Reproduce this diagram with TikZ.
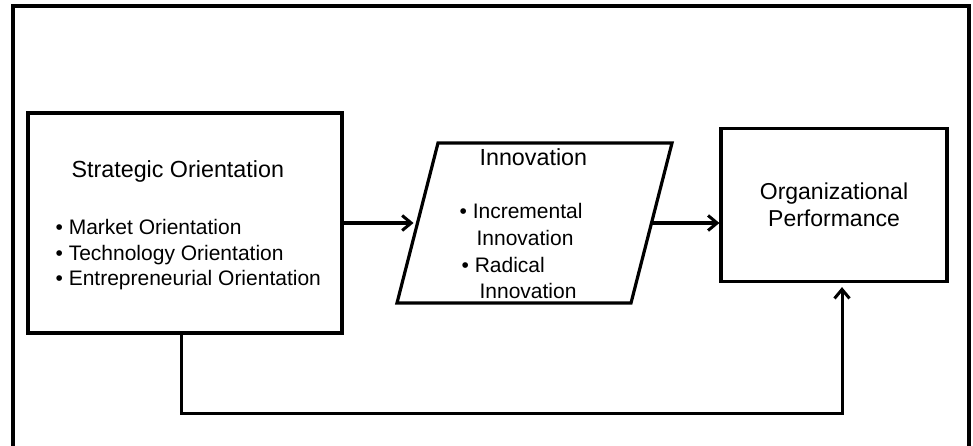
\documentclass[tikz,border=0pt]{standalone}
\usepackage{fontspec}
\setmainfont{Liberation Sans}
\usetikzlibrary{positioning,arrows.meta}

\begin{document}
\begin{tikzpicture}[
    x=1pt, y=-1pt,
    line width=3.2pt,
    box/.style={rectangle, draw, line width=3.2pt, inner sep=0pt},
    heading/.style={font=\fontsize{23.3}{27}\selectfont, inner sep=0pt},
    items/.style={font=\fontsize{21}{25.5}\selectfont, align=left, inner sep=0pt},
    arrow/.style={-{Straight Barb[length=9pt,width=15pt]}, line width=3pt}
]
    \useasboundingbox (0,0) rectangle (973,446);
    % outer frame, open at the bottom
    \draw (13,450) |- (969,6) -- (969,450);

    \node (strat) [box, minimum width=314pt, minimum height=220pt] at (185,223) {};
    \node (perf) [box, minimum width=226pt, minimum height=153pt, align=center, font=\fontsize{23}{26.5}\selectfont] at (834,205) {Organizational\\Performance};

    % innovation parallelogram
    \draw [line join=miter] (397,303) -- (631,303) -- (672,143) -- (438,143) -- cycle;
    \coordinate (innovIn) at (417.5,223);
    \coordinate (innovOut) at (651.5,223);

    \node (stratTitle) [heading, anchor=base west] at (70,178) {Strategic Orientation};
    \node (stratList) [items, anchor=north west] at (54,218) {• Market Orientation\\• Technology Orientation\\• Entrepreneurial Orientation};
    \node (innovTitle) [heading, anchor=base west] at (478,166) {Innovation};
    \node (innovList) [items, anchor=north west, font=\fontsize{21}{26.7}\selectfont] at (458,202) {• Incremental\\\hspace{17pt}Innovation\\\hspace{2pt}• Radical\\\hspace{20pt}Innovation};

    \draw [arrow, shorten >=4pt] (strat.east) -- (innovIn);
    \draw [arrow] (innovOut) -- (innovOut -| perf.west);
    \draw [arrow, shorten >=4pt] ([xshift=-4pt]strat.south) -- ++(0,79) -| ([xshift=8pt]perf.south);
\end{tikzpicture}
\end{document}
